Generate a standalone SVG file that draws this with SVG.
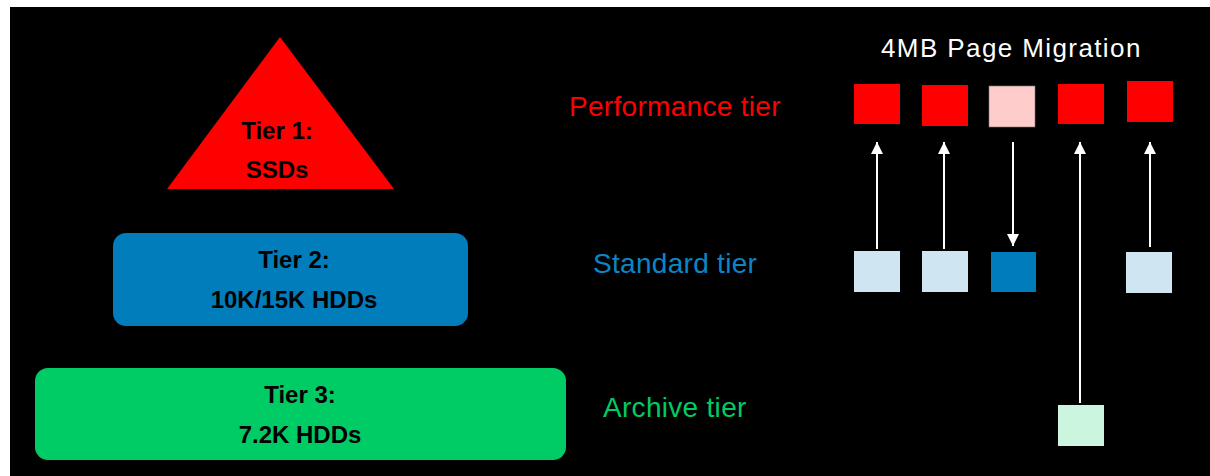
<svg xmlns="http://www.w3.org/2000/svg" width="1210" height="476" viewBox="0 0 1210 476">
<defs>
<style>
.tier{font-family:"Liberation Sans",Arial,sans-serif;font-weight:bold;font-size:24px;fill:#000;text-anchor:middle}
.lbl{font-family:"Liberation Sans",Arial,sans-serif;font-size:28px;letter-spacing:0.3px}
.conn{stroke:#fff;stroke-width:2;fill:none;marker-end:url(#ah)}
.red{fill:#ff0000}
.pink{fill:#ffcccc}
.lblue{fill:#cfe5f1}
.dblue{fill:#007bbb}
.lgreen{fill:#ccf5e0}
</style>
<marker id="ah" markerWidth="12" markerHeight="12" refX="10" refY="5" orient="auto" markerUnits="userSpaceOnUse" viewBox="0 0 10 10">
<path d="M0,0 L10,5 L0,10 z" fill="#fff"/>
</marker>
</defs>
<rect x="0" y="0" width="1210" height="476" fill="#fff"/>
<rect x="10" y="7" width="1200" height="469" fill="#000"/>

<g id="tier1">
<polygon points="280,37 394,189 167,189" fill="#ff0000"/>
<text class="tier" x="277" y="139">Tier 1:</text>
<text class="tier" x="277" y="178">SSDs</text>
</g>
<g id="tier2">
<rect x="113" y="233" width="355" height="93" rx="13" fill="#007dba"/>
<text class="tier" x="294" y="268">Tier 2:</text>
<text class="tier" x="294" y="308">10K/15K HDDs</text>
</g>
<g id="tier3">
<rect x="35" y="368" width="531" height="92" rx="13" fill="#00cc66"/>
<text class="tier" x="300" y="403">Tier 3:</text>
<text class="tier" x="300" y="443">7.2K HDDs</text>
</g>

<g id="labels">
<text class="lbl" x="569" y="116" fill="#ff0000">Performance tier</text>
<text class="lbl" x="593" y="273" fill="#0a86c6">Standard tier</text>
<text class="lbl" x="603" y="417" fill="#00cc66">Archive tier</text>
<text x="881" y="57" font-family="'Liberation Sans',Arial,sans-serif" font-size="26" letter-spacing="1.4" fill="#fff">4MB Page Migration</text>
</g>

<g id="perf-pages">
<rect id="p1" class="red" x="854" y="84" width="46" height="40"/>
<rect id="p2" class="red" x="922" y="85" width="46" height="41"/>
<rect id="p3" class="pink" x="989" y="86" width="46" height="41" stroke="#777" stroke-width="0.6"/>
<rect id="p4" class="red" x="1058" y="84" width="46" height="40"/>
<rect id="p5" class="red" x="1127" y="81" width="46" height="41"/>
</g>
<g id="std-pages">
<rect id="s1" class="lblue" x="854" y="251" width="46" height="41"/>
<rect id="s2" class="lblue" x="922" y="251" width="46" height="41"/>
<rect id="s3" class="dblue" x="991" y="252" width="45" height="40"/>
<rect id="s5" class="lblue" x="1126" y="252" width="46" height="41"/>
</g>
<g id="arch-pages">
<rect id="a4" class="lgreen" x="1058" y="405" width="46" height="41"/>
</g>

<g id="connectors">
<line class="conn" x1="877" y1="249" x2="877" y2="142"/>
<line class="conn" x1="944" y1="249" x2="944" y2="142"/>
<line class="conn" x1="1013" y1="142" x2="1013" y2="246"/>
<line class="conn" x1="1080" y1="403" x2="1080" y2="142"/>
<line class="conn" x1="1150" y1="247" x2="1150" y2="142"/>
</g>
</svg>
